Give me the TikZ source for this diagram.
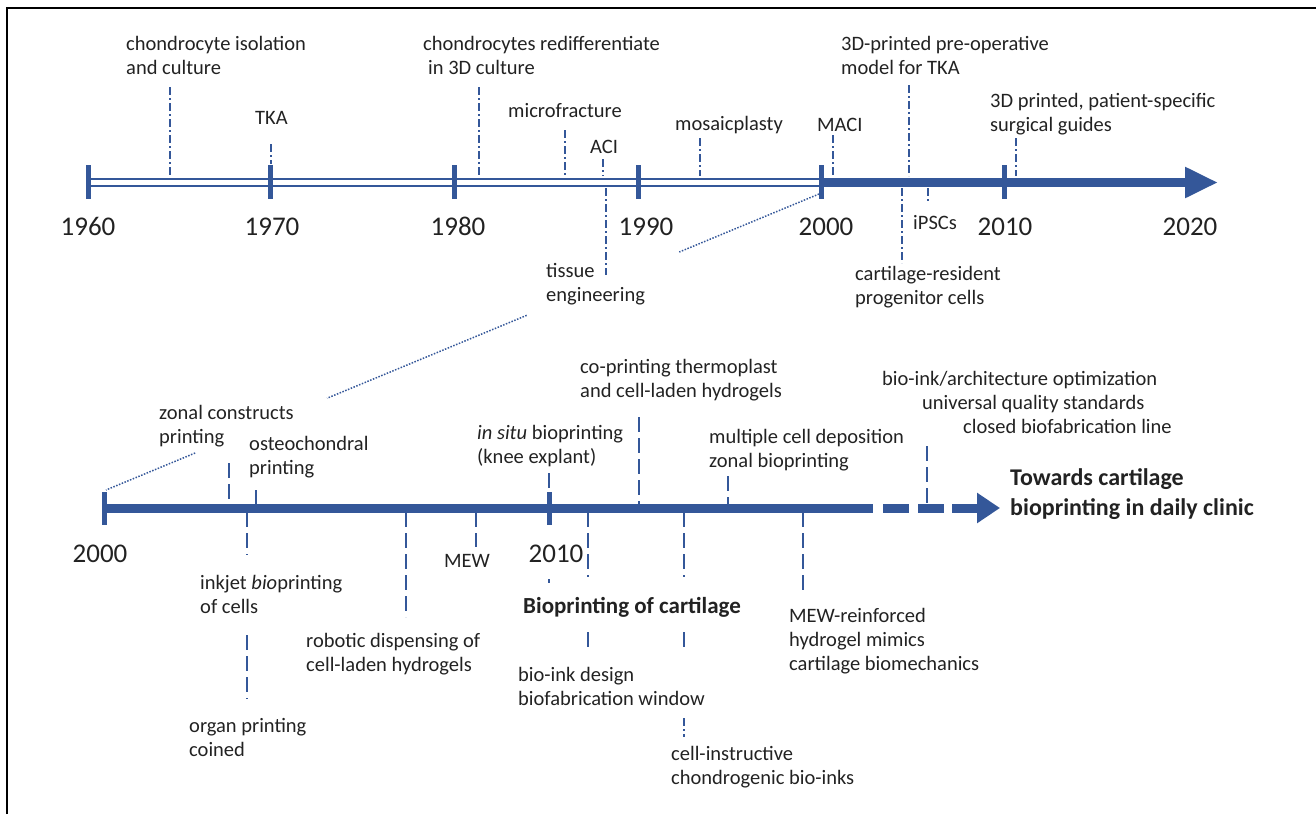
\documentclass[tikz,border=0pt]{standalone}
\usepackage{fontspec}
\setmainfont{Carlito}
\usepackage{xcolor}
\usepackage{tikz}
\usetikzlibrary{calc, arrows.meta}

\definecolor{tlblue}{RGB}{52,87,153}
\definecolor{txt}{RGB}{34,34,34}

\tikzset{
  lbl/.style={font=\fontsize{20.5}{24}\selectfont, text=txt, inner sep=0pt, anchor=base west, align=left},
  yr/.style={font=\fontsize{27}{30}\selectfont, text=txt, inner sep=0pt, anchor=base},
  hl/.style={font=\bfseries\fontsize{24}{30}\selectfont, text=txt, inner sep=0pt, anchor=base west, align=left},
  yrtick/.style={draw=tlblue, line width=5pt},
  dd/.style={draw=tlblue, line width=1.6pt, dash pattern=on 8pt off 3pt on 2pt off 3pt},
  ds/.style={draw=tlblue, line width=2pt, dash pattern=on 15pt off 6pt},
  zoomline/.style={draw=tlblue, line width=1.5pt, dash pattern=on 1.5pt off 1.5pt},
}

\begin{document}
\begin{tikzpicture}[x=1pt, y=-1pt]
    \useasboundingbox (0,0) rectangle (1316,814);
    % frame
    \draw[line width=2pt] (7,814) -- (7,8) -- (1316,8);

    % 1. upper timeline 1960-2020
    \coordinate (ta) at (0,176);
    \coordinate (tb) at (0,188);
    \coordinate (tt) at (0,164);
    \draw[draw=tlblue, line width=2pt, double=white, double distance=5pt] (88,182.5) -- (821,182.5);
    \draw[tlblue, line width=9.5pt, -{Triangle[length=33pt, width=29pt]}] (821,182.5) -- (1218,182.5);
    \foreach \xx in {88,270,454,638,821,1004}
        \draw[yrtick] (\xx,165) -- (\xx,199);
    \foreach \yy/\xx in {1960/88, 1970/272, 1980/458, 1990/646, 2000/826, 2010/1005, 2020/1190}
        \node[yr] (y\yy) at (\xx,235) {\yy};

    % events above (base = last line)
    \node[lbl] (iso) at (126,74) {chondrocyte isolation\\and culture};
    \node[lbl] (tka) at (255,124) {TKA};
    \node[lbl] (redif) at (423,74) {chondrocytes redifferentiate\\\hspace*{5pt}in 3D culture};
    \node[lbl] (mfr) at (508,117) {microfracture};
    \node[lbl] (aci) at (590,153) {ACI};
    \node[lbl] (mosaic) at (675,130) {mosaicplasty};
    \node[lbl] (maci) at (817,131) {MACI};
    \node[lbl] (preop) at (841,74) {3D-printed pre-operative\\model for TKA};
    \node[lbl] (guides) at (990,131) {3D printed, patient-specific\\surgical guides};
    \coordinate (iso-e) at (170,87);
    \coordinate (tka-e) at (271,144);
    \coordinate (redif-e) at (479,87);
    \coordinate (mfr-e) at (565,130);
    \coordinate (aci-e) at (603,159);
    \coordinate (mosaic-e) at (700,138);
    \coordinate (maci-e) at (833,135);
    \coordinate (preop-e) at (909,85);
    \coordinate (guides-e) at (1016,138);
    \draw[dd] (iso-e) -- (iso-e |- ta);
    \draw[dd] (tka-e) -- (tka-e |- tt);
    \draw[dd] (redif-e) -- (redif-e |- ta);
    \draw[dd] (mfr-e) -- (mfr-e |- ta);
    \draw[dd] (aci-e) -- (aci-e |- ta);
    \draw[dd] (mosaic-e) -- (mosaic-e |- ta);
    \draw[dd] (maci-e) -- (maci-e |- ta);
    \draw[dd] (preop-e) -- (preop-e |- ta);
    \draw[dd] (guides-e) -- (guides-e |- ta);

    % events below
    \node[lbl] (te) at (546,301) {tissue\\engineering};
    \node[lbl] (ipsc) at (913,229) {iPSCs};
    \node[lbl] (crp) at (855,304) {cartilage-resident\\progenitor cells};
    \coordinate (te-e) at (606,275);
    \coordinate (ipsc-e) at (928,203);
    \coordinate (crp-e) at (902,263);
    \draw[dd] (te-e |- tb) -- (te-e);
    \draw[dd] (ipsc-e |- tb) -- (ipsc-e);
    \draw[dd] (crp-e |- tb) -- (crp-e);

    % 2. zoom line 2000 -> lower timeline
    \coordinate (zs) at (819,194);
    \coordinate (ze) at (106,490);
    \draw[zoomline] (zs) -- ($(zs)!0.196!(ze)$);
    \draw[zoomline] ($(zs)!0.41!(ze)$) -- ($(zs)!0.69!(ze)$);
    \draw[zoomline] ($(zs)!0.875!(ze)$) -- (ze);

    % 3. lower timeline 2000 ->
    \coordinate (ba) at (0,504);
    \coordinate (bb) at (0,512);
    \draw[tlblue, line width=9pt] (104,508) -- (873,508);
    \draw[tlblue, line width=9pt, dash pattern=on 26pt off 9pt] (883,508) -- (952,508);
    \draw[tlblue, line width=9pt, -{Triangle[length=23pt, width=29pt]}] (952,508) -- (1000,508);
    \foreach \xx in {104,549}
        \draw[yrtick] (\xx,492) -- (\xx,525);
    \node[yr] (b2000) at (100,562) {2000};
    \node[yr] (b2010) at (556,562) {2010};
    \node[hl] (towards) at (1010,515) {Towards cartilage\\bioprinting in daily clinic};

    % events above
    \node[lbl] (zonal) at (159,443) {zonal constructs\\printing};
    \node[lbl] (osteo) at (249,474) {osteochondral\\printing};
    \node[lbl] (insitu) at (477,463) {\textit{in situ} bioprinting\\(knee explant)};
    \node[lbl] (coprint) at (580,397) {co-printing thermoplast\\and cell-laden hydrogels};
    \node[lbl] (multi) at (709,467) {multiple cell deposition\\zonal bioprinting};
    \node[lbl] (future) at (882,433) {bio-ink/architecture optimization\\\hspace*{40pt}universal quality standards\\\hspace*{81pt}closed biofabrication line};
    \coordinate (zonal-e) at (229,463);
    \coordinate (osteo-e) at (256,490);
    \coordinate (insitu-e) at (549,473);
    \coordinate (coprint-e) at (639,417);
    \coordinate (multi-e) at (728,476);
    \coordinate (future-e) at (927,446);
    \draw[ds] (zonal-e) -- (zonal-e |- ba);
    \draw[ds] (osteo-e) -- (osteo-e |- ba);
    \draw[ds] (insitu-e) -- (insitu-e |- ba);
    \draw[ds] (coprint-e) -- (coprint-e |- ba);
    \draw[ds] (multi-e) -- (multi-e |- ba);
    \draw[ds] (future-e) -- (future-e |- ba);

    % events below
    \node[lbl] (inkjet) at (200,613) {inkjet \textit{bio}printing\\of cells};
    \node[lbl] (organ) at (189,756) {organ printing\\coined};
    \node[lbl] (robotic) at (306,671) {robotic dispensing of\\cell-laden hydrogels};
    \node[lbl] (mew) at (444,567) {MEW};
    \node[hl, font=\bfseries\fontsize{23}{28}\selectfont] (bioprint) at (523,613) {Bioprinting of cartilage};
    \node[lbl] (bioink) at (518,705) {bio-ink design\\biofabrication window};
    \node[lbl] (instr) at (671,784) {cell-instructive\\chondrogenic bio-inks};
    \node[lbl] (mewr) at (789,670) {MEW-reinforced\\hydrogel mimics\\cartilage biomechanics};
    \coordinate (inkjet-e) at (247,555);
    \coordinate (organ-e) at (247,635);
    \coordinate (robotic-e) at (406,617);
    \coordinate (mew-e) at (476,547);
    \coordinate (bio-dot) at (549,579);
    \coordinate (bioink-e) at (588,577);
    \coordinate (instr-e) at (684,577);
    \coordinate (mewr-e) at (803,593);
    \draw[ds] (inkjet-e |- bb) -- (inkjet-e);
    \draw[ds] (organ-e) -- ++(0,64);
    \draw[ds] (robotic-e |- bb) -- (robotic-e);
    \draw[ds] (mew-e |- bb) -- (mew-e);
    \draw[tlblue, line width=2pt] (bio-dot) -- ++(0,4);
    \draw[ds] (bioink-e |- bb) -- (bioink-e);
    \draw[ds] (bioink-e) ++(0,55) -- ++(0,16);
    \draw[ds] (instr-e |- bb) -- (instr-e);
    \draw[ds] (instr-e) ++(0,55) -- ++(0,16);
    \draw[dd] (instr-e) ++(0,141) -- ++(0,19);
    \draw[ds] (mewr-e |- bb) -- (mewr-e);
\end{tikzpicture}
\end{document}
